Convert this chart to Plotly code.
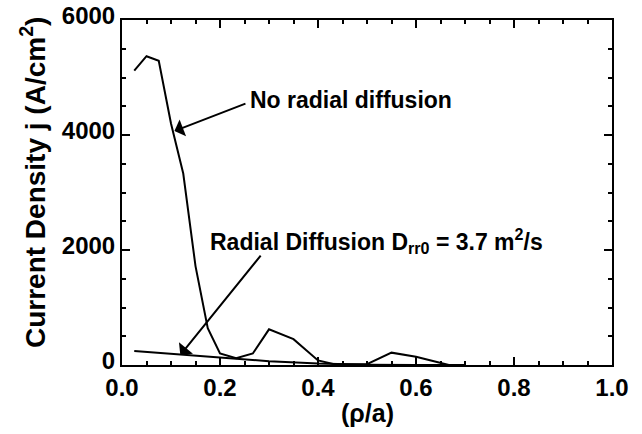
import plotly.graph_objects as go

# ---- data ----
rho_nodiff = [0.025, 0.05, 0.075, 0.1, 0.125, 0.15, 0.175, 0.2, 0.233, 0.267, 0.3,
              0.35, 0.4, 0.433, 0.5, 0.55, 0.6, 0.667, 0.7]
j_nodiff = [5120, 5370, 5290, 4200, 3330, 1720, 640, 200, 120, 200, 620,
            450, 80, 15, 15, 215, 145, 0, 0]

rho_diff = [0.025, 0.1, 0.2, 0.3, 0.4, 0.5, 0.6, 0.7]
j_diff = [245, 195, 120, 65, 25, 5, 0, 0]

x_ticks = [0.0, 0.2, 0.4, 0.6, 0.8, 1.0]
x_ticklabels = ["0.0", "0.2", "0.4", "0.6", "0.8", "1.0"]
y_ticks = [0, 2000, 4000, 6000]
y_ticklabels = ["0", "2000", "4000", "6000"]

FONT = "Liberation Sans, Arial, Helvetica, sans-serif"

fig = go.Figure()
fig.add_trace(go.Scatter(x=rho_nodiff, y=j_nodiff, mode="lines",
                         line=dict(color="black", width=2), showlegend=False))
fig.add_trace(go.Scatter(x=rho_diff, y=j_diff, mode="lines",
                         line=dict(color="black", width=2), showlegend=False))

axis_common = dict(showgrid=False, zeroline=False, showline=True, linecolor="black",
                   linewidth=2, mirror="allticks", ticks="inside", tickcolor="black",
                   tickwidth=1.5, ticklen=8, automargin=False,
                   tickfont=dict(family=FONT, size=24, color="black", weight="bold"))

fig.update_xaxes(range=[0, 1], tickvals=x_ticks, ticktext=x_ticklabels,
                 minor=dict(dtick=0.05, ticks="inside", ticklen=4, tickcolor="black", tickwidth=1.5),
                 **axis_common)
fig.update_yaxes(range=[0, 6000], tickvals=y_ticks, ticktext=y_ticklabels, ticklabelshift=-4,
                 minor=dict(dtick=500, ticks="inside", ticklen=4, tickcolor="black", tickwidth=1.5),
                 **axis_common)

ann_font = dict(family=FONT, size=23, color="black", weight="bold")

# arrows
fig.add_annotation(x=0.107, y=4069, ax=0.255, ay=4556, axref="x", ayref="y",
                   xref="x", yref="y", text="", showarrow=True, arrowhead=1,
                   arrowsize=1.5, arrowwidth=2, arrowcolor="black", standoff=0, startstandoff=0)
fig.add_annotation(x=0.119, y=174, ax=0.2855, ay=1930, axref="x", ayref="y",
                   xref="x", yref="y", text="", showarrow=True, arrowhead=1,
                   arrowsize=1.5, arrowwidth=2, arrowcolor="black", standoff=0, startstandoff=0)

# labels
fig.add_annotation(x=0.258, y=4608, xref="x", yref="y", text="No radial diffusion",
                   showarrow=False, xanchor="left", yanchor="middle", font=ann_font)
fig.add_annotation(x=0.176, y=2156, xref="x", yref="y",
                   text="Radial Diffusion D<sub>rr0</sub> = 3.7 m<sup>2</sup>/s",
                   showarrow=False, xanchor="left", yanchor="middle", font=ann_font)

# axis titles
fig.add_annotation(x=-0.1816, y=0.5275, xref="paper", yref="paper",
                   text="Current Density j (A/cm<sup>2</sup>)", textangle=-90,
                   showarrow=False, xanchor="center", yanchor="middle",
                   font=dict(family=FONT, size=28, color="black", weight="bold"))
fig.add_annotation(x=0.5, y=-0.139, xref="paper", yref="paper", text="(ρ/a)",
                   showarrow=False, xanchor="center", yanchor="middle",
                   font=dict(family=FONT, size=25, color="black", weight="bold"))

fig.update_layout(width=642, height=434, margin=dict(l=122, r=30, t=20, b=69),
                  plot_bgcolor="white", paper_bgcolor="white")

fig.write_html("out.html", config={"displayModeBar": False},
               post_script="document.body.style.margin='0px';document.body.style.overflow='hidden';")
